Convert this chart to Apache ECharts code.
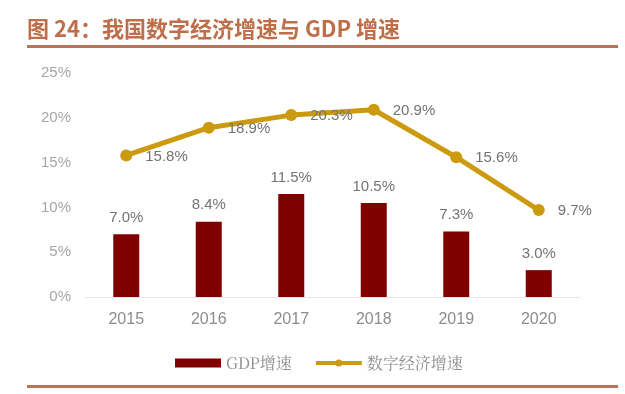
<!DOCTYPE html>
<html><head><meta charset="utf-8">
<script src="https://cdn.jsdelivr.net/npm/echarts@6/dist/echarts.min.js"></script>
<style>html,body{margin:0;padding:0;background:#fff}#c{width:625px;height:394px}</style>
</head><body><div id="c"></div>
<script>
const categories = ['2015','2016','2017','2018','2019','2020'];
const gdpGrowth = [7.0, 8.4, 11.5, 10.5, 7.3, 3.0];
const digitalGrowth = [15.8, 18.9, 20.3, 20.9, 15.6, 9.7];
const yTicks = [0, 5, 10, 15, 20, 25];
const titleText = '图 24：我国数字经济增速与 GDP 增速';
const seriesNames = ['GDP增速', '数字经济增速'];

const numFont = '"Liberation Sans Narrow", "Liberation Sans", Arial, sans-serif';
const chart = echarts.init(document.getElementById('c'), null, {renderer:'canvas'});
chart.setOption({
  animation: false,
  title: {
    text: titleText, left: 22, top: 13,
    textStyle: {color:'#BE6E48', fontSize: 22, fontWeight:'bold', fontFamily:'"Noto Sans CJK SC", sans-serif'}
  },
  graphic: [
    {type:'rect', shape:{x:27, y:45, width:591, height:3}, style:{fill:'#B87358'}},
    {type:'rect', shape:{x:27, y:385, width:591, height:3}, style:{fill:'#B87358'}}
  ],
  legend: {
    bottom: 18, left: 170, itemGap: 22, itemWidth: 46, itemHeight: 9,
    textStyle: {color:'#8c8c8c', fontSize: 16, fontFamily:'"Noto Serif CJK SC", "DejaVu Serif", serif'},
    data: [
      {name: seriesNames[0], icon:'rect'},
      {name: seriesNames[1], lineStyle:{width:4}, itemStyle:{color:'#CC9A0E'}}
    ]
  },
  grid: {left: 85, right: 45, top: 73, bottom: 97},
  xAxis: {
    type: 'category', data: categories,
    axisLine: {lineStyle:{color:'#e6e6e6'}}, axisTick: {show:false},
    axisLabel: {color:'#8c8c8c', fontSize: 16, margin: 15, fontFamily: numFont}
  },
  yAxis: {
    type: 'value', min: yTicks[0], max: yTicks[yTicks.length-1], interval: 5,
    splitLine: {show:false}, axisLine:{show:false}, axisTick:{show:false},
    axisLabel: {color:'#a6a6a6', fontSize: 15, margin: 14, fontFamily: numFont, formatter: v => v + '%'}
  },
  series: [
    {
      name: seriesNames[0], type: 'bar', data: gdpGrowth, barWidth: 26,
      itemStyle: {color:'#800000'},
      label: {show:true, position:'top', distance: 9, color:'#737373', fontSize: 15, fontFamily: numFont,
        formatter: p => p.value.toFixed(1) + '%'}
    },
    {
      name: seriesNames[1], type: 'line', data: digitalGrowth,
      symbol: 'circle', symbolSize: 12, z: 5,
      lineStyle: {color:'#CC9A0E', width: 5},
      itemStyle: {color:'#CC9A0E'},
      label: {show:true, position:'right', distance: 13, offset:[0,1], color:'#737373', fontSize: 15, fontFamily: numFont,
        formatter: p => p.value.toFixed(1) + '%'}
    }
  ]
});
</script></body></html>
